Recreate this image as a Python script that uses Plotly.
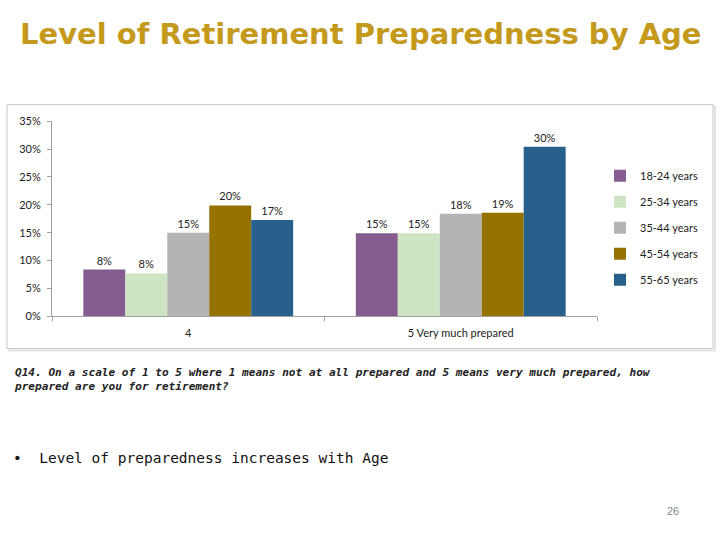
import plotly.graph_objects as go

categories = ["4", "5 Very much prepared"]
series_names = ["18-24 years", "25-34 years", "35-44 years", "45-54 years", "55-65 years"]
values = {
    "18-24 years": [8.4, 14.9],
    "25-34 years": [7.7, 14.9],
    "35-44 years": [15.0, 18.4],
    "45-54 years": [19.9, 18.6],
    "55-65 years": [17.3, 30.4],
}
colors = ["#855C90", "#CFE4C3", "#B4B4B4", "#967200", "#28608C"]
y_ticks = [0, 5, 10, 15, 20, 25, 30, 35]

W, H = 720, 540

def px(x):
    return x / W

def py(y):
    return 1 - y / H

fig = go.Figure()
for name, col in zip(series_names, colors):
    fig.add_trace(go.Bar(
        name=name, x=categories, y=values[name],
        marker=dict(color=col, line=dict(width=0)),
        text=values[name], texttemplate="%{y:.0f}%", textposition="outside",
        textfont=dict(family="Lato", size=11, color="#222"),
        cliponaxis=False, legendgroup=name,
    ))

CHART_FONT = "Lato"
fig.update_layout(
    width=W, height=H,
    margin=dict(l=0, r=0, t=0, b=0),
    paper_bgcolor="white", plot_bgcolor="white",
    barmode="group", bargap=0.23, bargroupgap=0,
    showlegend=True,
    legend=dict(x=px(600), y=py(158), xanchor="left", yanchor="top",
                font=dict(family=CHART_FONT, size=11, color="#222"),
                tracegroupgap=7, itemwidth=30, bgcolor="rgba(0,0,0,0)"),
    xaxis=dict(domain=[px(52), px(597)], type="category",
               showline=True, linecolor="#A0A0A0", linewidth=1,
               ticks="outside", tickson="boundaries", ticklen=4, tickcolor="#A0A0A0",
               ticklabelstandoff=6,
               tickfont=dict(family=CHART_FONT, size=11, color="#222"), showgrid=False),
    yaxis=dict(domain=[py(317), py(117)], range=[0, 35], tickvals=y_ticks,
               ticktext=[f"{v}%" for v in y_ticks],
               showline=True, linecolor="#A0A0A0", linewidth=1,
               ticks="outside", ticklen=4, tickcolor="#A0A0A0", showgrid=False, zeroline=False,
               ticklabelstandoff=4,
               tickfont=dict(family=CHART_FONT, size=11, color="#222")),
    shapes=[
        dict(type="rect", xref="paper", yref="paper",
             x0=px(9), x1=px(715), y0=py(352), y1=py(102),
             line=dict(color="#E4E4E4", width=2), layer="below"),
        dict(type="rect", xref="paper", yref="paper",
             x0=px(7), x1=px(713), y0=py(350), y1=py(100),
             line=dict(color="#C8C8C8", width=1), fillcolor="white", layer="below"),
    ],
    annotations=[
        dict(text="<b>Level of Retirement Preparedness by Age</b>", xref="paper", yref="paper",
             x=px(361), y=py(28), xanchor="center", yanchor="middle", showarrow=False,
             font=dict(family="DejaVu Sans", size=29, color="#C4991C")),
        dict(text="<b><i>Q14. On a scale of 1 to 5 where 1 means not at all prepared and 5 means very much prepared, how<br>prepared are you for retirement?</i></b>",
             xref="paper", yref="paper", x=px(12), y=py(366), xanchor="left", yanchor="top",
             align="left", showarrow=False,
             font=dict(family="DejaVu Sans Mono", size=11.1, color="#222")),
        dict(text="•  Level of preparedness increases with Age", xref="paper", yref="paper",
             x=px(11), y=py(462), xanchor="left", yanchor="middle", showarrow=False,
             font=dict(family="DejaVu Sans Mono", size=14.5, color="#111")),
        dict(text="26", xref="paper", yref="paper", x=px(673), y=py(516),
             xanchor="center", yanchor="middle", showarrow=False,
             font=dict(family="Liberation Sans", size=11, color="#888")),
    ],
)

fig.write_html("out.html", config={"displayModeBar": False},
               post_script="document.body.style.margin='0px';document.body.style.overflow='hidden';")
